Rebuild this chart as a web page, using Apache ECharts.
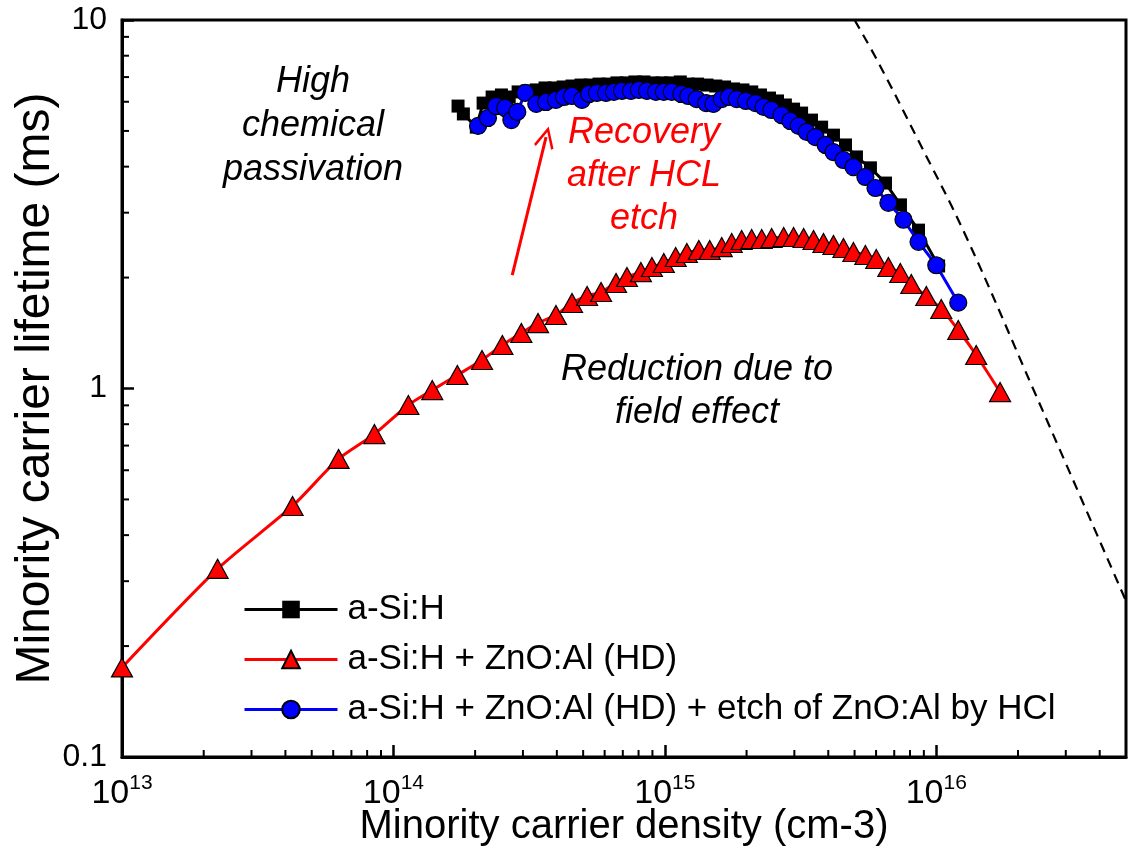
<!DOCTYPE html>
<html><head><meta charset="utf-8">
<script src="https://cdn.jsdelivr.net/npm/echarts@6/dist/echarts.min.js"></script>
<style>html,body{margin:0;padding:0;background:#fff}#c{width:1128px;height:849px}</style>
</head><body><div id="c"></div>
<script>
// ---- data ----
const aSiH_x = [1.73e14,1.81e14,2.02e14,2.14e14,2.31e14,2.50e14,2.67e14,2.88e14,3.11e14,3.36e14,3.62e14,3.91e14,4.22e14,4.55e14,4.91e14,5.30e14,5.72e14,6.17e14,6.66e14,7.19e14,7.76e14,8.37e14,9.04e14,9.75e14,1.05e15,1.14e15,1.22e15,1.32e15,1.43e15,1.54e15,1.66e15,1.79e15,1.94e15,2.09e15,2.25e15,2.43e15,2.60e15,2.78e15,2.98e15,3.19e15,3.47e15,3.78e15,4.18e15,4.63e15,5.08e15,5.72e15,6.50e15,7.38e15,8.60e15,1.02e16];
const aSiH_y = [5.84,5.56,5.12,5.95,6.18,6.26,6.18,6.38,6.42,6.46,6.54,6.54,6.58,6.62,6.66,6.66,6.70,6.70,6.75,6.75,6.79,6.79,6.75,6.75,6.75,6.79,6.70,6.70,6.66,6.62,6.58,6.50,6.46,6.38,6.26,6.14,6.03,5.88,5.73,5.59,5.35,5.12,4.87,4.58,4.25,3.97,3.61,3.15,2.69,2.15];

const zno_x = [1.0e13,2.25e13,4.25e13,6.28e13,8.51e13,1.135e14,1.39e14,1.72e14,2.12e14,2.52e14,2.96e14,3.41e14,3.97e14,4.55e14,5.17e14,5.82e14,6.61e14,7.25e14,8.16e14,8.96e14,9.91e14,1.096e15,1.205e15,1.334e15,1.463e15,1.62e15,1.763e15,1.918e15,2.088e15,2.274e15,2.474e15,2.74e15,2.98e15,3.245e15,3.53e15,3.84e15,4.18e15,4.55e15,4.95e15,5.48e15,6.01e15,6.66e15,7.37e15,8.09e15,9.19e15,1.043e16,1.205e16,1.403e16,1.718e16];
const zno_y = [0.175,0.324,0.48,0.644,0.752,0.902,0.99,1.088,1.195,1.312,1.415,1.505,1.583,1.706,1.782,1.827,1.933,2.007,2.07,2.137,2.191,2.274,2.332,2.376,2.376,2.42,2.482,2.529,2.545,2.545,2.561,2.577,2.577,2.561,2.529,2.482,2.452,2.406,2.347,2.303,2.246,2.137,2.058,1.921,1.782,1.643,1.441,1.233,0.978];

const etch_x = [2.05e14,2.23e14,2.39e14,2.58e14,2.72e14,2.86e14,3.06e14,3.36e14,3.65e14,3.97e14,4.25e14,4.55e14,4.95e14,5.26e14,5.62e14,6.07e14,6.49e14,6.95e14,7.50e14,8.02e14,8.59e14,9.27e14,9.91e14,1.06e15,1.15e15,1.22e15,1.31e15,1.42e15,1.51e15,1.62e15,1.72e15,1.84e15,1.99e15,2.16e15,2.31e15,2.47e15,2.69e15,2.90e15,3.11e15,3.33e15,3.59e15,3.91e15,4.18e15,4.55e15,4.95e15,5.48e15,5.97e15,6.66e15,7.57e15,8.60e15,1.0e16,1.205e16];
const etch_y = [5.16,5.42,5.84,5.77,5.35,5.63,6.34,5.92,5.99,6.07,6.18,6.22,6.07,6.30,6.34,6.34,6.38,6.42,6.42,6.46,6.42,6.38,6.38,6.38,6.30,6.22,6.10,5.95,5.92,6.10,6.18,6.10,6.03,5.95,5.81,5.70,5.52,5.32,5.16,4.97,4.81,4.58,4.38,4.17,3.99,3.75,3.50,3.19,2.87,2.50,2.16,1.71];

const limit_x = [5.0e15,6.1e15,8.6e15,1.28e16,2.31e16,5.0e16];
const limit_y = [10,7.7,4.7,2.61,0.972,0.265];

const arrow_x = [2.74e14,3.65e14];
const arrow_y = [2.03,4.81];

const xMinorTicks = [2e13,3e13,4e13,5e13,6e13,7e13,8e13,9e13,2e14,3e14,4e14,5e14,6e14,7e14,8e14,9e14,2e15,3e15,4e15,5e15,6e15,7e15,8e15,9e15,2e16,3e16,4e16];
const yMinorTicks = [0.2,0.3,0.4,0.5,0.6,0.7,0.8,0.9,2,3,4,5,6,7,8,9];

const names = ['a-Si:H','a-Si:H + ZnO:Al (HD)','a-Si:H + ZnO:Al (HD) + etch of ZnO:Al by HCl'];
const FONT = "'Liberation Sans', Arial, sans-serif";
const IT = "italic 36px 'Liberation Sans', Arial";

const zip = (a,b) => a.map((v,i)=>[v,b[i]]);

const chart = echarts.init(document.getElementById('c'));

function minorRender(dir){
  return function(params, api){
    const p = api.coord([api.value(0), api.value(1)]);
    const s = {stroke:'#000', lineWidth:2};
    if (dir==='x') return {type:'line', shape:{x1:p[0],y1:p[1],x2:p[0],y2:p[1]-7}, style:s};
    return {type:'line', shape:{x1:p[0],y1:p[1],x2:p[0]+7,y2:p[1]}, style:s};
  };
}

const chevron = 'path://M0,0 L12,22 L9.5,23.5 L0,6 L-9.5,23.5 L-12,22 Z';
function txt(t,x,y,c){
  return {type:'text', x:x, y:y, style:{text:t, font:IT, fill:c, align:'center', verticalAlign:'middle', textAlign:'center', textVerticalAlign:'middle'}};
}

chart.setOption({
  animation:false,
  backgroundColor:'#fff',
  grid:{left:122,right:2,top:20,bottom:92,show:true,borderColor:'#000',borderWidth:3,backgroundColor:'transparent',
        containLabel:false, outerBoundsMode:'none'},
  xAxis:{
    type:'log', logBase:10, min:1e13, max:5e16,
    axisLine:{lineStyle:{color:'#000',width:3}},
    axisTick:{inside:true,length:12,lineStyle:{color:'#000',width:2.5}},
    splitLine:{show:false},
    axisLabel:{
      margin:16, showMaxLabel:false,
      formatter:function(v){
        const e = Math.log10(v);
        if (Math.abs(e-Math.round(e))>1e-6) return '';
        return '{b|10}{e|'+Math.round(e)+'}';
      },
      rich:{
        b:{fontSize:34,fontFamily:FONT,color:'#000',verticalAlign:'bottom',lineHeight:38},
        e:{fontSize:21,fontFamily:FONT,color:'#000',verticalAlign:'top',lineHeight:38,padding:[0,0,16,0]}
      }
    },
    name:'Minority carrier density (cm-3)', nameLocation:'middle', nameGap:50, nameMoveOverlap:false,
    nameTextStyle:{fontSize:40,fontFamily:FONT,color:'#000'}
  },
  yAxis:{
    type:'log', logBase:10, min:0.1, max:10,
    axisLine:{lineStyle:{color:'#000',width:3}},
    axisTick:{inside:true,length:12,lineStyle:{color:'#000',width:2.5}},
    splitLine:{show:false},
    axisLabel:{margin:15,fontSize:32,fontFamily:FONT,color:'#000',
      formatter:function(v){ return String(+v.toPrecision(3)); }},
    name:'Minority carrier lifetime (ms)', nameLocation:'middle', nameGap:62, nameMoveOverlap:false,
    nameTextStyle:{fontSize:48,fontFamily:FONT,color:'#000'}
  },
  legend:{
    data:names, orient:'vertical', left:238, top:587,
    itemWidth:93, itemHeight:22, itemGap:15, selectedMode:false,
    lineStyle:{width:3},
    textStyle:{fontSize:35,fontFamily:FONT,color:'#000',padding:[0,0,0,5]}
  },
  graphic:[
    txt('High',313,82,'#000'), txt('chemical',313,126,'#000'), txt('passivation',313,170,'#000'),
    txt('Recovery',644,133,'#ff0000'), txt('after HCL',644,176,'#ff0000'), txt('etch',644,219,'#ff0000'),
    txt('Reduction due to',697,370,'#000'), txt('field effect',697,413,'#000')
  ],
  series:[
    {name:'limit', type:'line', data:zip(limit_x,limit_y), smooth:0.4, showSymbol:false, symbol:'none',
     lineStyle:{color:'#000',width:2.2,type:[10,7]}, silent:true, z:1},
    {name:names[0], type:'line', data:zip(aSiH_x,aSiH_y), symbol:'rect', symbolSize:13,
     itemStyle:{color:'#000'}, lineStyle:{color:'#000',width:3}, z:2},
    {name:names[1], type:'line', data:zip(zno_x,zno_y), symbol:'triangle', symbolSize:[21,19], smooth:0.25,
     itemStyle:{color:'#ff0000',borderColor:'#000',borderWidth:1.2}, lineStyle:{color:'#ff0000',width:3}, z:3,
     markLine:{silent:true, symbol:['none',chevron], symbolSize:[20,22], label:{show:false},
       lineStyle:{color:'#ff0000',width:3,type:'solid'},
       data:[[{coord:[arrow_x[0],arrow_y[0]]},{coord:[arrow_x[1],arrow_y[1]]}]]}},
    {name:names[2], type:'line', data:zip(etch_x,etch_y), symbol:'circle', symbolSize:17,
     itemStyle:{color:'#0000ff',borderColor:'#000',borderWidth:1.2}, lineStyle:{color:'#0000ff',width:3}, z:4},
    {name:'xminor', type:'custom', renderItem:minorRender('x'), data:xMinorTicks.map(v=>[v,0.1]), clip:false, silent:true, z:10},
    {name:'yminor', type:'custom', renderItem:minorRender('y'), data:yMinorTicks.map(v=>[1e13,v]), clip:false, silent:true, z:10}
  ]
});
</script></body></html>
